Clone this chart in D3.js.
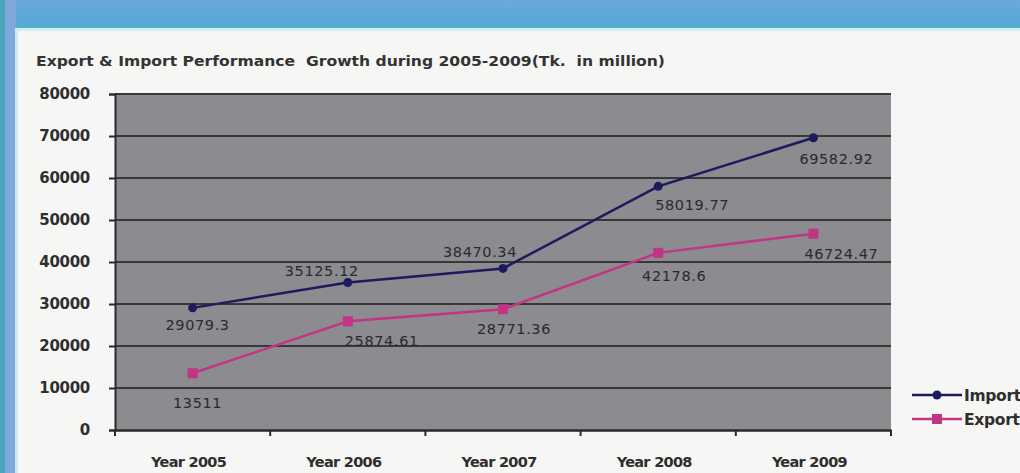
<!DOCTYPE html>
<html>
<head>
<meta charset="utf-8">
<script src="https://cdn.jsdelivr.net/npm/d3@7"></script>
<style>
  body { margin: 0; background: #ffffff; }
  svg { display: block; }
  text { white-space: pre; }
</style>
</head>
<body>
<svg id="chart" width="1020" height="473"></svg>
<script>
// ---- data ----
const years = ["Year 2005", "Year 2006", "Year 2007", "Year 2008", "Year 2009"];
const importValues = [29079.3, 35125.12, 38470.34, 58019.77, 69582.92];
const exportValues = [13511, 25874.61, 28771.36, 42178.6, 46724.47];
const importLabels = ["29079.3", "35125.12", "38470.34", "58019.77", "69582.92"];
const exportLabels = ["13511", "25874.61", "28771.36", "42178.6", "46724.47"];
const yTickValues = [0, 10000, 20000, 30000, 40000, 50000, 60000, 70000, 80000];
const seriesNames = ["Import", "Export"];
const titleText = "Export & Import Performance  Growth during 2005-2009(Tk.  in million)";

// ---- label placement (offset from each point, px) ----
const importLabelOffsets = [[5, 22], [-26, -6], [-23, -11], [34, 24], [23, 26]];
const exportLabelOffsets = [[5, 35], [34, 25], [11, 25], [16, 28], [28, 25]];

const svg = d3.select("#chart");
const W = 1020, H = 473;

// ---- page frame ----
const defs = svg.append("defs");
const band = defs.append("linearGradient").attr("id", "band").attr("x1", 0).attr("y1", 0).attr("x2", 0).attr("y2", 1);
band.append("stop").attr("offset", "0%").attr("stop-color", "#6aa9de");
band.append("stop").attr("offset", "70%").attr("stop-color", "#5aa8d8");
band.append("stop").attr("offset", "100%").attr("stop-color", "#4fb3c6");

svg.append("rect").attr("x", 0).attr("y", 0).attr("width", W).attr("height", H).attr("fill", "#f6f6f4");
svg.append("rect").attr("x", 0).attr("y", 0).attr("width", W).attr("height", 29).attr("fill", "url(#band)");
svg.append("rect").attr("x", 0).attr("y", 0).attr("width", 16).attr("height", H).attr("fill", "#7fa9dd");
svg.append("rect").attr("x", 0).attr("y", 0).attr("width", 5).attr("height", H).attr("fill", "#4aa7bb");
svg.append("rect").attr("x", 15).attr("y", 28).attr("width", 3).attr("height", H).attr("fill", "#cfe9ee");
svg.append("rect").attr("x", 15).attr("y", 28).attr("width", W).attr("height", 3).attr("fill", "#d6eef2");

// ---- title ----
svg.append("text")
  .attr("x", 36).attr("y", 66)
  .attr("textLength", 629).attr("lengthAdjust", "spacingAndGlyphs")
  .style("font-family", "'DejaVu Sans', sans-serif")
  .style("font-size", "14px")
  .style("font-weight", "600")
  .attr("fill", "#333333")
  .text(titleText);

// ---- scales ----
const plot = { left: 115, right: 891, top: 94, bottom: 430 };
const x = d3.scaleBand().domain(years).range([plot.left, plot.right]).padding(0);
const y = d3.scaleLinear().domain([0, 80000]).range([plot.bottom, plot.top]);
const cx = d => x(d) + x.bandwidth() / 2;

// plot background
svg.append("rect")
  .attr("x", plot.left).attr("y", plot.top)
  .attr("width", plot.right - plot.left).attr("height", plot.bottom - plot.top)
  .attr("fill", "#8b8b90");

// gridlines
svg.append("g")
  .selectAll("line")
  .data(yTickValues.filter(v => v > 0))
  .join("line")
  .attr("x1", plot.left).attr("x2", plot.right)
  .attr("y1", d => y(d)).attr("y2", d => y(d))
  .attr("stroke", "#38383a").attr("stroke-width", 2);

// y axis
const yAxis = svg.append("g")
  .attr("transform", `translate(${plot.left},0)`)
  .call(d3.axisLeft(y).tickValues(yTickValues).tickFormat(d3.format("d")).tickSize(6).tickPadding(19));
yAxis.select(".domain").attr("stroke", "#2a2a2a").attr("stroke-width", 2);
yAxis.selectAll(".tick line").attr("stroke", "#2a2a2a").attr("stroke-width", 2);
yAxis.selectAll("text")
  .style("font-family", "'DejaVu Sans', sans-serif")
  .style("font-size", "15px").style("font-weight", "bold")
  .style("letter-spacing", "-0.3px")
  .attr("fill", "#2e2e2e");

// x axis
const xAxis = svg.append("g")
  .attr("transform", `translate(0,${plot.bottom})`)
  .call(d3.axisBottom(x).tickSize(0).tickPadding(27));
xAxis.select(".domain").attr("stroke", "#2a2a2a").attr("stroke-width", 2.5);
xAxis.selectAll("text")
  .attr("dx", -4)
  .style("font-family", "'DejaVu Sans', sans-serif")
  .style("font-size", "14.5px").style("font-weight", "bold")
  .style("letter-spacing", "-0.7px")
  .attr("fill", "#2e2e2e");
// category boundary ticks
svg.append("g")
  .selectAll("line")
  .data(years.concat(["end"]))
  .join("line")
  .attr("x1", (d, i) => i < years.length ? x(d) : x(years[years.length - 1]) + x.bandwidth())
  .attr("x2", (d, i) => i < years.length ? x(d) : x(years[years.length - 1]) + x.bandwidth())
  .attr("y1", plot.bottom).attr("y2", plot.bottom + 6)
  .attr("stroke", "#2a2a2a").attr("stroke-width", 2);

// ---- series ----
const series = [
  { name: seriesNames[0], values: importValues, labels: importLabels, offsets: importLabelOffsets, color: "#1d1b5e", shape: "diamond" },
  { name: seriesNames[1], values: exportValues, labels: exportLabels, offsets: exportLabelOffsets, color: "#c23585", shape: "square" }
];

const line = d3.line().x((d, i) => cx(years[i])).y(d => y(d));

function drawMarker(g, shape, color, px, py) {
  if (shape === "diamond") {
    g.append("circle").attr("cx", px).attr("cy", py).attr("r", 4.5).attr("fill", color);
  } else {
    g.append("rect").attr("x", px - 5).attr("y", py - 5).attr("width", 10).attr("height", 10).attr("fill", color);
  }
}

series.forEach(s => {
  const g = svg.append("g");
  g.append("path").datum(s.values)
    .attr("d", line).attr("fill", "none")
    .attr("stroke", s.color).attr("stroke-width", 2.5);
  s.values.forEach((v, i) => drawMarker(g, s.shape, s.color, cx(years[i]), y(v)));
  g.selectAll("text.val")
    .data(s.values)
    .join("text")
    .attr("class", "val")
    .attr("x", (d, i) => cx(years[i]) + s.offsets[i][0])
    .attr("y", (d, i) => y(d) + s.offsets[i][1])
    .attr("text-anchor", "middle")
    .style("font-family", "'DejaVu Sans', sans-serif")
    .style("font-size", "14.5px")
    .style("letter-spacing", "0.6px")
    .attr("fill", "#2a2a2a")
    .text((d, i) => s.labels[i]);
});

// ---- legend ----
const legendY = [395, 419];
series.forEach((s, i) => {
  const g = svg.append("g");
  g.append("line").attr("x1", 912).attr("x2", 962)
    .attr("y1", legendY[i]).attr("y2", legendY[i])
    .attr("stroke", s.color).attr("stroke-width", 2.5);
  drawMarker(g, s.shape, s.color, 937, legendY[i]);
  g.append("text")
    .attr("x", 964).attr("y", legendY[i] + 6)
    .style("font-family", "'DejaVu Sans', sans-serif")
    .style("font-size", "15.5px").style("font-weight", "600")
    .style("letter-spacing", "-0.3px")
    .attr("fill", "#2e2e2e")
    .text(s.name);
});
</script>
</body>
</html>
